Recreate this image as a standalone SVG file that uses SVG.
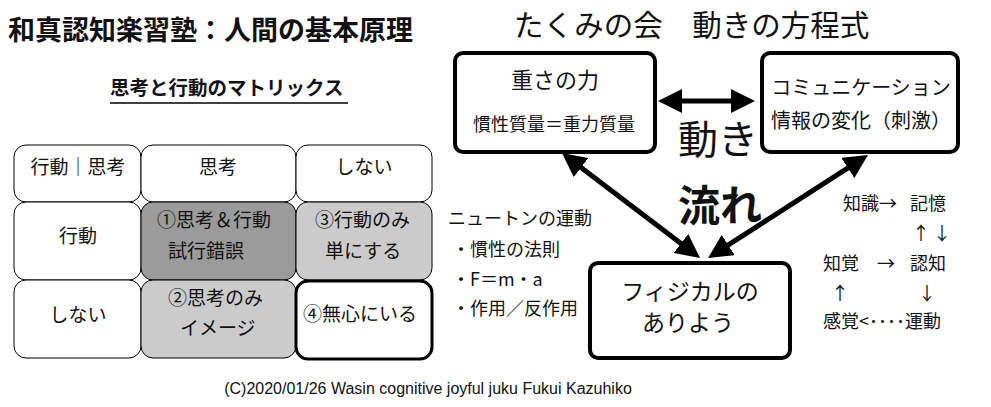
<svg xmlns="http://www.w3.org/2000/svg" width="991" height="407" viewBox="0 0 991 407">
<style>
text{font-family:"Noto Sans CJK JP","Liberation Sans",sans-serif;fill:#111}
.cell{stroke:#000;stroke-width:1}
.ct{font-size:19px}
.box{fill:#fff;stroke:#000;stroke-width:4}
.mid{text-anchor:middle}
.lst{font-size:18px}
.conn{stroke:#000;stroke-width:5;fill:none;marker-start:url(#ah);marker-end:url(#ah)}
.foot{font-family:"Liberation Sans",Arial,sans-serif;font-size:16px}
</style>
<defs>
<marker id="ah" viewBox="0 0 24 24" markerUnits="userSpaceOnUse" markerWidth="24" markerHeight="24" refX="10" refY="12" orient="auto-start-reverse">
<path d="M0,0 L24,12 L0,24 z" fill="#000"/>
</marker>
</defs>
<rect width="991" height="407" fill="#fff"/>
<text x="8" y="40" font-size="27" font-weight="bold">和真認知楽習塾：人間の基本原理</text>
<text x="110" y="95" font-size="19.5" font-weight="bold">思考と行動のマトリックス</text>
<line x1="110" y1="103" x2="348" y2="103" stroke="#000" stroke-width="1.5"/>

<g id="matrix">
<g id="c11"><rect class="cell" x="14" y="145" width="127" height="57" rx="12" fill="#fff"/><text class="ct mid" x="78" y="174">行動｜思考</text></g>
<g id="c12"><rect class="cell" x="141" y="145" width="155" height="57" rx="12" fill="#fff"/><text class="ct mid" x="218" y="174">思考</text></g>
<g id="c13"><rect class="cell" x="296" y="145" width="136" height="57" rx="12" fill="#fff"/><text class="ct mid" x="364" y="174">しない</text></g>
<g id="c21"><rect class="cell" x="14" y="202" width="127" height="78" rx="12" fill="#fff"/><text class="ct mid" x="78" y="243">行動</text></g>
<g id="c22"><rect class="cell" x="141" y="202" width="155" height="78" rx="12" fill="#9b9b9b"/><text class="ct" x="157" y="227">①思考＆行動</text><text class="ct" x="168" y="258">試行錯誤</text></g>
<g id="c23"><rect class="cell" x="296" y="202" width="136" height="78" rx="12" fill="#cbcbcb"/><text class="ct" x="315" y="227">③行動のみ</text><text class="ct" x="325" y="258">単にする</text></g>
<g id="c31"><rect class="cell" x="14" y="280" width="127" height="78" rx="12" fill="#fff"/><text class="ct mid" x="78" y="322">しない</text></g>
<g id="c32"><rect class="cell" x="141" y="280" width="155" height="78" rx="12" fill="#cbcbcb"/><text class="ct" x="168" y="305">②思考のみ</text><text class="ct" x="180" y="335">イメージ</text></g>
<g id="c33"><rect x="296" y="281" width="136" height="78" rx="12" fill="#fff" stroke="#000" stroke-width="3"/><text class="ct" x="303" y="321">④無心にいる</text></g>
</g>

<text x="514" y="36" font-size="29.5">たくみの会　動きの方程式</text>

<g id="connectors">
<line class="conn" x1="672" y1="101" x2="741" y2="101"/>
<line class="conn" x1="573.1" y1="161.5" x2="688.9" y2="249.5"/>
<line class="conn" x1="856.2" y1="162.6" x2="719.8" y2="250.4"/>
</g>

<g id="gravity">
<rect class="box" x="455" y="53" width="200" height="99" rx="8"/>
<text class="mid" x="555" y="88" font-size="22">重さの力</text>
<text class="mid" x="554" y="131" font-size="18">慣性質量＝重力質量</text>
</g>
<g id="communication">
<rect class="box" x="762" y="53" width="196" height="99" rx="8"/>
<text class="mid" x="861" y="95" font-size="20">コミュニケーション</text>
<text class="mid" x="861" y="128" font-size="20">情報の変化（刺激）</text>
</g>
<g id="physical">
<rect class="box" x="590" y="263" width="200" height="95" rx="8"/>
<text class="mid" x="690" y="300" font-size="23">フィジカルの</text>
<text class="mid" x="688" y="331" font-size="23">ありよう</text>
</g>

<text x="678" y="154" font-size="40">動き</text>
<text x="678" y="221" font-size="42" font-weight="bold">流れ</text>

<g id="newton">
<text class="lst" x="448" y="225">ニュートンの運動</text>
<text class="lst" x="452" y="256">・慣性の法則</text>
<text class="lst" x="452" y="286">・F＝m・a</text>
<text class="lst" x="452" y="315">・作用／反作用</text>
</g>

<g id="cognition">
<text class="lst" x="843" y="210">知識→</text>
<text class="lst" x="910" y="210">記憶</text>
<text class="lst" x="912" y="240">↑</text>
<text class="lst" x="933" y="240">↓</text>
<text class="lst" x="823" y="270">知覚</text>
<text class="lst" x="877" y="270">→</text>
<text class="lst" x="910" y="270">認知</text>
<text class="lst" x="831" y="300">↑</text>
<text class="lst" x="918" y="300">↓</text>
<text class="lst" x="823" y="328">感覚&lt;････運動</text>
</g>

<text class="foot" x="428" y="394" text-anchor="middle">(C)2020/01/26 Wasin cognitive joyful juku Fukui Kazuhiko</text>
</svg>
